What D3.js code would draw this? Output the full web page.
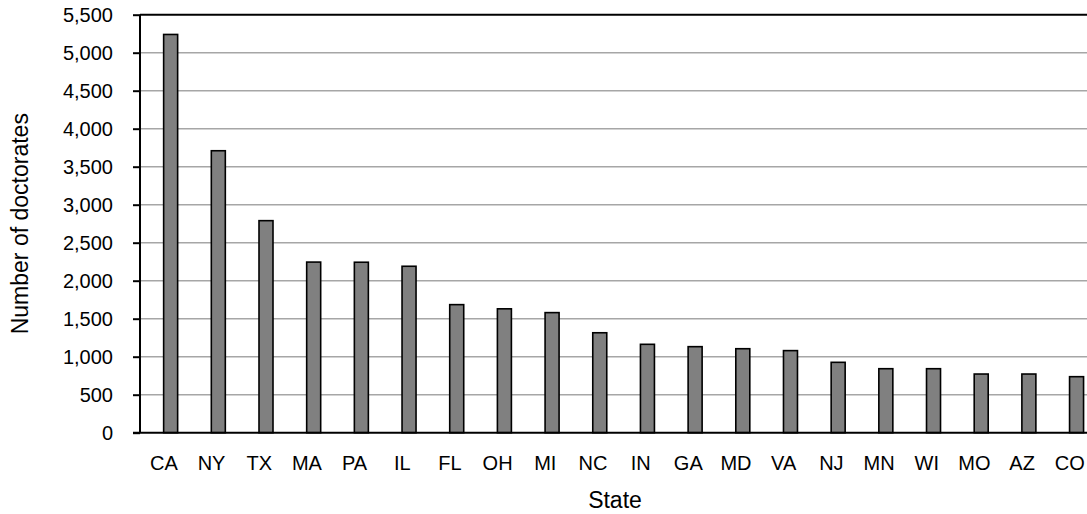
<!DOCTYPE html>
<html>
<head>
<meta charset="utf-8">
<script src="https://cdn.jsdelivr.net/npm/d3@7"></script>
<style>
  html, body { margin: 0; padding: 0; background: #fff; }
  svg { display: block; }
  text { font-family: "Liberation Sans", Arial, sans-serif; fill: #000; }
</style>
</head>
<body>
<svg id="chart" width="1087" height="514"></svg>
<script>
const states = ["CA","NY","TX","MA","PA","IL","FL","OH","MI","NC","IN","GA","MD","VA","NJ","MN","WI","MO","AZ","CO"];
const doctorates = [5240, 3710, 2790, 2245, 2243, 2190, 1685, 1630, 1580, 1315, 1163, 1132, 1105, 1080, 926, 842, 842, 772, 772, 737];
const yTickValues = [0, 500, 1000, 1500, 2000, 2500, 3000, 3500, 4000, 4500, 5000, 5500];
const xTitle = "State";
const yTitle = "Number of doctorates";

(function () {
const svg = d3.select("#chart");
const W = 1087;
const pLeft = 140, pTop = 14.7, pBottom = 432.7, pRight = 1093.6;
const tickFont = 20, titleFont = 23;

const y = d3.scaleLinear().domain([0, 5500]).range([pBottom, pTop]);
const x = d3.scaleBand().domain(states).range([pLeft, pRight]).padding(0);

// gridlines
svg.append("g")
  .selectAll("line")
  .data(yTickValues.filter(v => v > 0 && v < 5500))
  .join("line")
  .attr("x1", pLeft).attr("x2", W)
  .attr("y1", d => y(d)).attr("y2", d => y(d))
  .attr("stroke", "#a6a6a6").attr("stroke-width", 1.6);

// bars
const barW = 14, barShift = 6.8;
svg.append("g")
  .selectAll("rect")
  .data(states.map((s, i) => ({ s, v: doctorates[i] })))
  .join("rect")
  .attr("x", d => x(d.s) + x.bandwidth() / 2 + barShift - barW / 2)
  .attr("width", barW)
  .attr("y", d => y(d.v))
  .attr("height", d => y(0) - y(d.v))
  .attr("fill", "#808080")
  .attr("stroke", "#000").attr("stroke-width", 1.6);

// top border
svg.append("line")
  .attr("x1", pLeft).attr("x2", W)
  .attr("y1", y(5500)).attr("y2", y(5500))
  .attr("stroke", "#000").attr("stroke-width", 2);

// y axis
const yAxis = d3.axisLeft(y).tickValues(yTickValues).tickFormat(d3.format(",")).tickSize(7).tickPadding(20);
const gy = svg.append("g").attr("transform", `translate(${pLeft},0)`).call(yAxis);
gy.select(".domain").attr("stroke", "#000").attr("stroke-width", 2).attr("d", `M0,${pTop}V${pBottom}`);
gy.selectAll(".tick line").attr("stroke", "#000").attr("stroke-width", 2);
gy.selectAll(".tick text").style("font-size", tickFont + "px").style("font-family", "'Liberation Sans', Arial, sans-serif").attr("fill", "#000");

// x axis
const xAxis = d3.axisBottom(x).tickSize(0).tickPadding(23);
const gx = svg.append("g").attr("transform", `translate(0,${pBottom})`).call(xAxis);
gx.select(".domain").attr("stroke", "#000").attr("stroke-width", 2).attr("d", `M${pLeft - 7},0H${W}`);
gx.selectAll(".tick text").style("font-size", tickFont + "px").style("font-family", "'Liberation Sans', Arial, sans-serif").attr("fill", "#000");

// titles
svg.append("text")
  .attr("x", 615).attr("y", 508)
  .attr("text-anchor", "middle")
  .style("font-size", titleFont + "px")
  .text(xTitle);

svg.append("text")
  .attr("transform", `translate(28,${(pTop + pBottom) / 2}) rotate(-90)`)
  .attr("text-anchor", "middle")
  .style("font-size", titleFont + "px")
  .text(yTitle);
})();
</script>
</body>
</html>
